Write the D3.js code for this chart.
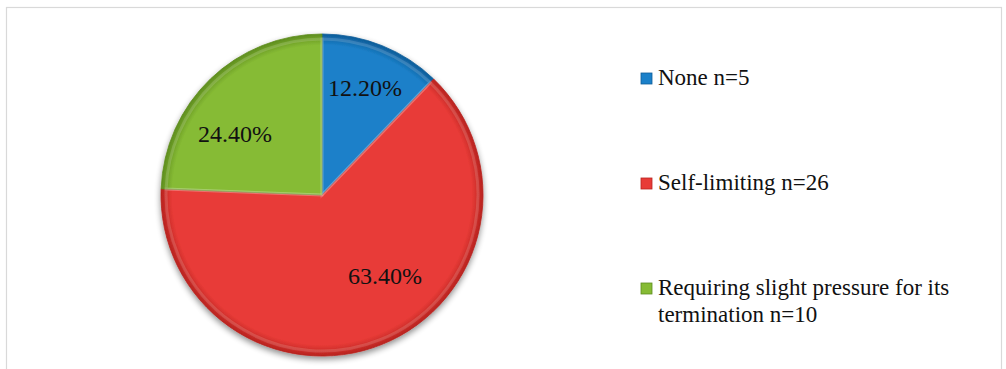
<!DOCTYPE html>
<html>
<head>
<meta charset="utf-8">
<script src="https://cdn.jsdelivr.net/npm/d3@7"></script>
<style>
  html, body { margin: 0; padding: 0; background: #fff; }
  svg { display: block; }
</style>
</head>
<body>
<div id="chart"></div>
<script>
// data
const categories = ['None n=5', 'Self-limiting n=26', 'Requiring slight pressure for its termination n=10'];
const counts = [5, 26, 10];
const pctLabels = ['12.20%', '63.40%', '24.40%'];
const colors = ['#1b80c9', '#e83b37', '#86bb34'];
const darkColors = ['#0f5d99', '#b8231f', '#5e8d1e'];

const W = 1006, H = 369;
const cx = 322, cy = 195, R = 161;
const serif = 'Liberation Serif';

const svg = d3.select('#chart').append('svg')
  .attr('width', W)
  .attr('height', H);

// outer frame
svg.append('rect')
  .attr('x', 6.5).attr('y', 7.5)
  .attr('width', 995).attr('height', 364)
  .attr('fill', '#fff')
  .attr('stroke', '#d9d9d9')
  .attr('stroke-width', 1.2);

const defs = svg.append('defs');

// soft drop shadow under the pie
const shadow = defs.append('filter').attr('id', 'shadow')
  .attr('x', '-20%').attr('y', '-20%').attr('width', '140%').attr('height', '140%');
shadow.append('feGaussianBlur').attr('in', 'SourceAlpha').attr('stdDeviation', 3);
shadow.append('feOffset').attr('dx', 0).attr('dy', 3).attr('result', 'off');
shadow.append('feComponentTransfer').append('feFuncA').attr('type', 'linear').attr('slope', 0.45);
const merge = shadow.append('feMerge');
merge.append('feMergeNode');
merge.append('feMergeNode').attr('in', 'SourceGraphic');

// radial gradient per slice for a slight bevel look (paths sit in a translated group)
colors.forEach((c, i) => {
  const g = defs.append('radialGradient')
    .attr('id', 'grad' + i)
    .attr('gradientUnits', 'userSpaceOnUse')
    .attr('cx', 0).attr('cy', 0).attr('r', R);
  g.append('stop').attr('offset', '0%').attr('stop-color', c);
  g.append('stop').attr('offset', '93%').attr('stop-color', c);
  g.append('stop').attr('offset', '100%').attr('stop-color', darkColors[i]);
});

const pie = d3.pie().sort(null).value(d => d);
const arcs = pie(counts);
const arc = d3.arc().innerRadius(0).outerRadius(R);
const innerArc = d3.arc().innerRadius(0).outerRadius(R - 5);

const g = svg.append('g').attr('transform', `translate(${cx},${cy})`);

g.append('g').attr('filter', 'url(#shadow)')
  .selectAll('path')
  .data(arcs)
  .join('path')
  .attr('d', arc)
  .attr('fill', (d, i) => `url(#grad${i})`)
  .attr('stroke', (d, i) => darkColors[i])
  .attr('stroke-width', 0.8);

// faint highlight along slice edges
g.append('g')
  .selectAll('path')
  .data(arcs)
  .join('path')
  .attr('d', innerArc)
  .attr('fill', 'none')
  .attr('stroke', '#ffffff')
  .attr('stroke-opacity', 0.15)
  .attr('stroke-width', 3);

// percentage labels
const labelPos = [[43, -107], [63, 81], [-87, -61]];
g.selectAll('text.pct')
  .data(arcs)
  .join('text')
  .attr('class', 'pct')
  .attr('x', (d, i) => labelPos[i][0])
  .attr('y', (d, i) => labelPos[i][1])
  .attr('text-anchor', 'middle')
  .attr('dominant-baseline', 'central')
  .attr('font-family', serif)
  .attr('font-size', 24)
  .attr('fill', '#111')
  .text((d, i) => pctLabels[i]);

// legend (baselines)
const legendY = [85, 190, 295];
const legendLines = [['None n=5'], ['Self-limiting n=26'], ['Requiring slight pressure for its', 'termination n=10']];
const lg = svg.append('g');
categories.forEach((cat, i) => {
  const row = lg.append('g').attr('transform', `translate(641,${legendY[i]})`);
  row.append('rect')
    .attr('x', 0).attr('y', -12)
    .attr('width', 11).attr('height', 11)
    .attr('fill', colors[i])
    .attr('stroke', darkColors[i])
    .attr('stroke-width', 0.8);
  const t = row.append('text')
    .attr('x', 17).attr('y', 0)
    .attr('font-family', serif)
    .attr('font-size', 23)
    .attr('fill', '#111');
  legendLines[i].forEach((ln, j) => {
    t.append('tspan').attr('x', 17).attr('dy', j === 0 ? 0 : 27).text(ln);
  });
});
</script>
</body>
</html>
